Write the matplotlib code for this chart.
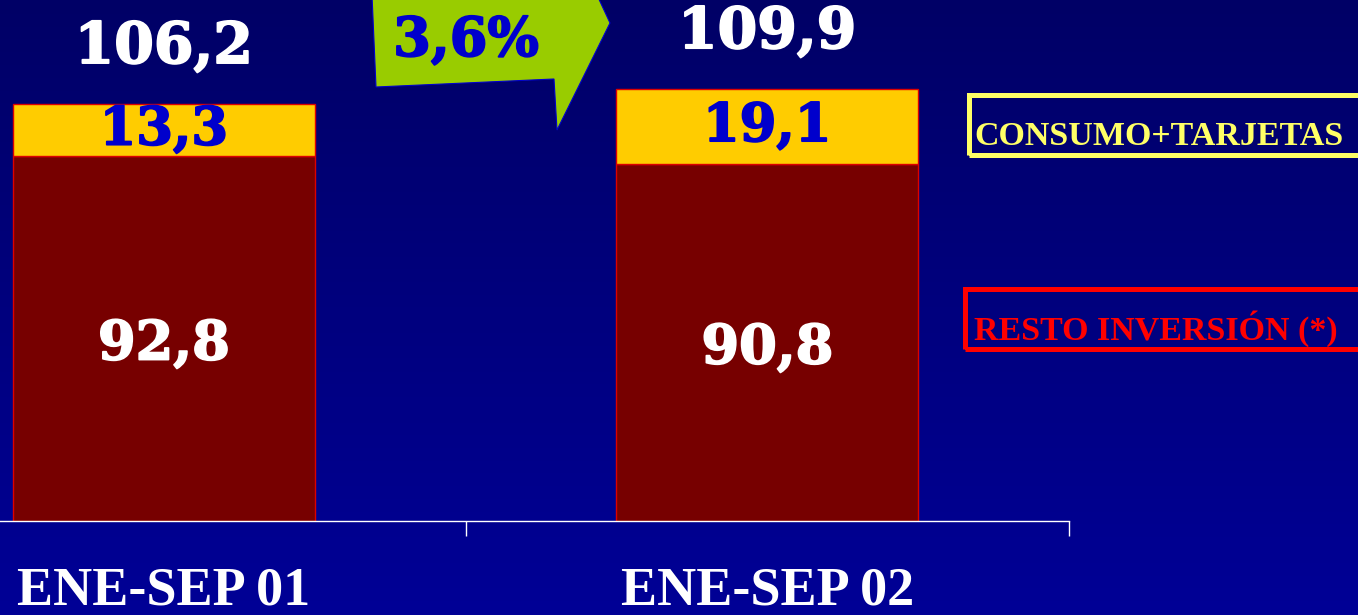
import numpy as np
import matplotlib.pyplot as plt
import matplotlib.patheffects as pe
from matplotlib.colors import LinearSegmentedColormap
from matplotlib.patches import Polygon, Rectangle

# periods and stacked amounts
periods = ["ENE-SEP 01", "ENE-SEP 02"]
resto = [92.8, 90.8]
consumo = [13.3, 19.1]
total_labels = ["106,2", "109,9"]
growth_label = "3,6%"
legend_labels = ["CONSUMO+TARJETAS", "RESTO INVERSIÓN (*)"]

W, H = 1358, 615


def fx(px):
    return px / W


def fy(py):
    # pixel row measured from the top
    return 1 - py / H


def fmt(v):
    return f"{v:.1f}".replace(".", ",")


def heavy(col):
    # thicken the serif strokes a little
    return [pe.withStroke(linewidth=1.3, foreground=col)]


fig = plt.figure(figsize=(W / 100, H / 100), dpi=100)

# background: navy at the top, brighter blue at the bottom
bg = fig.add_axes([0, 0, 1, 1], zorder=-10)
cmap = LinearSegmentedColormap.from_list("bg", ["#000066", "#000096"])
bg.imshow(np.linspace(0, 1, 256).reshape(-1, 1), aspect="auto", cmap=cmap,
          extent=[0, 1, 0, 1])
bg.set_axis_off()

ax = fig.add_axes([fx(-138), 94 / H, 1207 / W, 521 / H])
ax.patch.set_alpha(0)
x = np.arange(len(periods))
ax.bar(x, resto, width=0.5, color="#770000", edgecolor="#dd0000", linewidth=1)
ax.bar(x, consumo, width=0.5, bottom=resto, color="#ffcc00",
       edgecolor="#dd0000", linewidth=1)

num_font = dict(family="DejaVu Serif", weight="bold")
for i in range(len(periods)):
    ax.text(x[i], resto[i] / 2 - 1.5, fmt(resto[i]), ha="center", va="center",
            color="white", fontsize=39, path_effects=heavy("white"), **num_font)
    ax.text(x[i], resto[i] + consumo[i] / 2, fmt(consumo[i]), ha="center",
            va="center", color="#0000cc", fontsize=38,
            path_effects=heavy("#0000cc"), **num_font)
    ax.annotate(total_labels[i], (x[i], resto[i] + consumo[i]),
                xytext=(0, 41), textcoords="offset points", ha="center",
                va="center", color="white", fontsize=41,
                path_effects=heavy("white"), **num_font)

ax.set_xlim(-0.5, 1.5)
ax.set_ylim(0, 521 / 3.93)
for s in ["top", "right", "left"]:
    ax.spines[s].set_visible(False)
ax.spines["bottom"].set_color("white")
ax.spines["bottom"].set_linewidth(1)
ax.set_yticks([])
ax.set_xticks(x)
ax.set_xticklabels(periods, family="Liberation Serif", weight="bold",
                   fontsize=39, color="white")
ax.tick_params(axis="x", which="major", length=0, pad=33)
ax.set_xticks([0.5, 1.5], minor=True)
ax.tick_params(axis="x", which="minor", length=11, width=1, color="white",
               direction="out")

# green growth callout
pts = [(372, -5), (376, 87), (554, 79), (557, 130), (610, 23), (597, -5)]
fig.patches.append(Polygon([(fx(a), fy(b)) for a, b in pts], closed=True,
                           transform=fig.transFigure, facecolor="#99cc00",
                           edgecolor="#0000cc", linewidth=0.8, zorder=5))
fig.text(fx(466), fy(41), growth_label, ha="center", va="center",
         color="#0000cc", fontsize=39, zorder=6,
         path_effects=heavy("#0000cc"), **num_font)

# legend boxes on the right
boxes = [(968.5, 95, 154.5, "#ffff66", 145),
         (965, 289.5, 349.5, "#ff0000", 340)]
for (left, top, bottom, col, base), lab in zip(boxes, legend_labels):
    fig.patches.append(Rectangle((fx(left), fy(bottom)), fx(600),
                                 (bottom - top) / H, transform=fig.transFigure,
                                 fill=False, edgecolor=col, linewidth=3.6))
    fig.text(fx(974), fy(base), lab, ha="left", va="baseline", color=col,
             fontsize=24.5, family="Liberation Serif", weight="bold")

fig.savefig("out.png", dpi=100)
